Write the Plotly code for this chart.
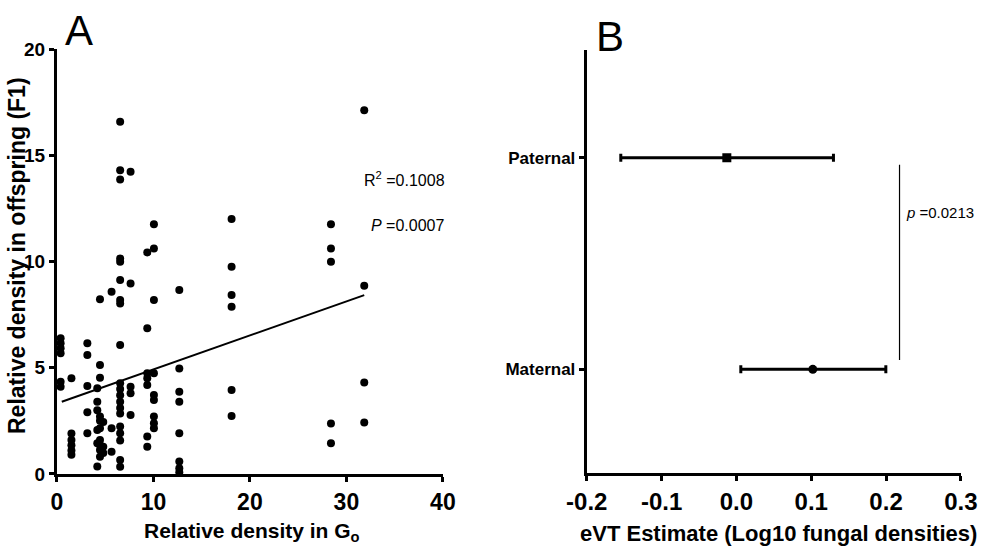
import plotly.graph_objects as go

# ---------------- Panel A data ----------------
g0_density = (
    [0.38] * 6 + [1.5] * 6 + [3.15] * 5 + [4.18] * 6 + [4.46] * 10 + [4.8] * 3 +
    [5.66] * 3 + [6.55] * 20 + [7.63] * 5 + [9.36] * 7 + [10.05] * 9 +
    [12.68] * 8 + [18.1] * 6 + [28.4] * 5 + [31.85] * 4
)
f1_density = (
    [6.39, 6.15, 5.92, 5.68, 4.34, 4.11] +
    [4.5, 1.9, 1.6, 1.35, 1.1, 0.9] +
    [6.15, 5.6, 4.14, 2.9, 1.91] +
    [4.03, 3.4, 3.0, 2.07, 1.45, 0.35] +
    [8.22, 5.13, 4.53, 2.7, 2.5, 2.15, 1.6, 1.36, 1.13, 0.81] +
    [2.45, 1.28, 0.98] +
    [8.58, 2.15, 1.05] +
    [16.58, 14.3, 13.87, 10.15, 9.99, 9.13, 8.19, 8.03, 6.07, 4.27, 4.0, 3.7, 3.4,
     3.1, 2.85, 2.23, 1.91, 1.57, 0.66, 0.34] +
    [14.23, 8.97, 4.11, 3.8, 2.78] +
    [10.43, 6.86, 4.74, 4.5, 4.19, 1.76, 1.28] +
    [11.76, 10.62, 8.19, 4.74, 3.72, 3.48, 2.7, 2.39, 2.15] +
    [8.66, 4.97, 3.87, 3.4, 1.91, 0.58, 0.27, 0.08] +
    [12.0, 9.76, 8.42, 7.87, 3.95, 2.73] +
    [11.76, 10.62, 9.99, 2.38, 1.44] +
    [17.13, 8.86, 4.31, 2.42]
)
fit_x = [0.5, 31.85]
fit_y = [3.40, 8.42]
x_ticks_a = [0, 10, 20, 30, 40]
y_ticks_a = [0, 5, 10, 15, 20]

# ---------------- Panel B data ----------------
groups = ["Paternal", "Maternal"]
evt_estimate = [-0.0128, 0.1021]
ci_upper = [0.1297, 0.1997]
ci_lower = [-0.1545, 0.0059]
x_ticks_b = [-0.2, -0.1, 0.0, 0.1, 0.2, 0.3]
x_ticktext_b = ["-0.2", "-0.1", "0.0", "0.1", "0.2", "0.3"]
p_line_x = 0.218
p_line_y = [0.044, 0.967]

BOLD = "Liberation Sans, Arial, sans-serif"
REG = "Liberation Sans, Arial, sans-serif"

fig = go.Figure()

fig.add_trace(go.Scatter(
    x=g0_density, y=f1_density, mode="markers",
    marker=dict(color="black", size=8, symbol="circle"),
    xaxis="x", yaxis="y", showlegend=False, cliponaxis=False,
))
fig.add_trace(go.Scatter(
    x=fit_x, y=fit_y, mode="lines",
    line=dict(color="black", width=2),
    xaxis="x", yaxis="y", showlegend=False,
))

err_plus = [u - e for u, e in zip(ci_upper, evt_estimate)]
err_minus = [e - l for e, l in zip(evt_estimate, ci_lower)]
fig.add_trace(go.Scatter(
    x=evt_estimate, y=groups, mode="markers",
    marker=dict(color="black", size=9, symbol=["square", "circle"]),
    error_x=dict(type="data", array=err_plus, arrayminus=err_minus,
                 color="black", thickness=3, width=4, symmetric=False),
    xaxis="x2", yaxis="y2", showlegend=False,
))

axis_common = dict(
    showline=True, linecolor="black", linewidth=3, ticks="outside",
    ticklen=5, tickwidth=3, tickcolor="black", showgrid=False, zeroline=False,
    automargin=False,
)

fig.update_layout(
    width=982, height=553,
    margin=dict(l=0, r=0, t=0, b=0),
    paper_bgcolor="white", plot_bgcolor="white",
    xaxis=dict(domain=[0.058, 0.451], range=[0, 40], tickvals=x_ticks_a,
               tickfont=dict(family=BOLD, size=23, color="black", weight="bold"),
               anchor="y", **axis_common),
    yaxis=dict(domain=[0.143, 0.911], range=[0, 20], tickvals=y_ticks_a,
               tickfont=dict(family=BOLD, size=19, color="black", weight="bold"),
               ticklabelstandoff=0,
               anchor="x", **axis_common),
    xaxis2=dict(domain=[0.5975, 0.9785], range=[-0.2, 0.3], tickvals=x_ticks_b,
                ticktext=x_ticktext_b,
                tickfont=dict(family=BOLD, size=24, color="black", weight="bold"),
                anchor="y2", **axis_common),
    yaxis2=dict(domain=[0.1447, 0.9096], range=[-0.49, 1.51], type="category",
                categoryorder="array", categoryarray=["Maternal", "Paternal"],
                tickfont=dict(family=BOLD, size=17, color="black", weight="bold"),
                anchor="x2", **axis_common),
    shapes=[dict(type="line", xref="x2", yref="y2", x0=p_line_x, x1=p_line_x,
                 y0=p_line_y[0], y1=p_line_y[1],
                 line=dict(color="black", width=1.2))],
    annotations=[
        dict(text="A", x=79, y=30, font=dict(family=REG, size=42, color="black")),
        dict(text="B", x=610, y=36, font=dict(family=REG, size=42, color="black")),
        dict(text="Relative density in G<sub>o</sub>", x=252, y=532,
             font=dict(family=BOLD, size=21, color="black", weight="bold")),
        dict(text="Relative density in offspring (F1)", x=17, y=256, textangle=-90,
             font=dict(family=BOLD, size=23, color="black", weight="bold")),
        dict(text="eVT Estimate (Log10 fungal densities)", x=778, y=533,
             font=dict(family=BOLD, size=22, color="black", weight="bold")),
        dict(text="R<sup>2</sup> =0.1008", x=404, y=179,
             font=dict(family=REG, size=16, color="black")),
        dict(text="<i>P</i> =0.0007", x=408, y=225,
             font=dict(family=REG, size=16, color="black")),
        dict(text="<i>p</i> =0.0213", x=940, y=213,
             font=dict(family=REG, size=15, color="black")),
    ],
)

# place annotations by pixel centre, converted to paper fractions
W, H = 982, 553
for ann in fig.layout.annotations:
    ann.x = ann.x / W
    ann.y = 1 - ann.y / H
    ann.xref = "paper"
    ann.yref = "paper"
    ann.showarrow = False
    ann.xanchor = "center"
    ann.yanchor = "middle"

fig.write_html(
    "out.html",
    config={"displayModeBar": False},
    post_script="document.body.style.margin='0';document.body.style.overflow='hidden';",
)
